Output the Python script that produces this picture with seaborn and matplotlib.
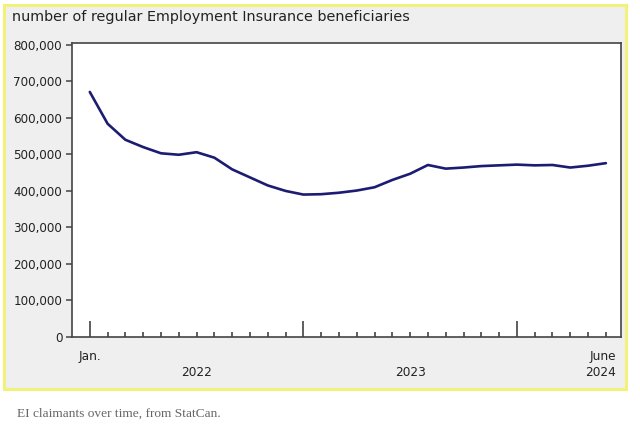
import matplotlib
matplotlib.use("Agg")
import matplotlib.pyplot as plt
import matplotlib.ticker as mticker
from matplotlib.patches import Rectangle
import numpy as np
import pandas as pd
import seaborn as sns

# monthly regular EI beneficiaries, Jan 2022 - June 2024
months = pd.date_range("2022-01-01", "2024-06-01", freq="MS")
beneficiaries = [
    671000, 584000, 540000, 520000, 503000, 499000, 506000, 491000, 459000, 437000, 415000, 400000,
    390000, 391000, 395000, 401000, 410000, 430000, 447000, 471000, 461000, 464000, 468000, 470000,
    472000, 470000, 471000, 464000, 469000, 476000,
]
year_labels = ["2022", "2023", "2024"]
y_ticks = [0, 100000, 200000, 300000, 400000, 500000, 600000, 700000, 800000]

df = pd.DataFrame({"mes": np.arange(len(months)), "valor": beneficiaries})

sns.set_style("ticks")
plt.rcParams["font.family"] = ["DejaVu Sans"]

fig = plt.figure(figsize=(6.4, 4.29), dpi=100)
fig.patch.set_facecolor("white")

# gray panel with yellow border
W, H = 640, 429
fig.patches.append(Rectangle((4 / W, 1 - 389 / H), 622 / W, 384 / H,
                             transform=fig.transFigure, facecolor="#efefef",
                             edgecolor="#f2f27a", linewidth=2.2, zorder=-10))

ax = fig.add_axes([72 / W, 1 - 337 / H, 549 / W, 294 / H])
ax.set_zorder(5)
ax.set_facecolor("white")

sns.lineplot(data=df, x="mes", y="valor", ax=ax, color="#1c1c72", linewidth=1.9)

ax.set_xlim(-1, 29.85)
ax.set_ylim(0, 805000)
ax.set_yticks(y_ticks)
ax.yaxis.set_major_formatter(mticker.FuncFormatter(lambda v, p: f"{int(v):,}"))
ax.tick_params(axis="y", direction="out", length=4, width=1.1, color="#444444",
               labelsize=8.6, labelcolor="#222222", pad=3)

ax.set_xticks([i for i, m in enumerate(months) if m.month == 1])
ax.set_xticks(np.arange(len(months)), minor=True)
ax.set_xticklabels([])
ax.tick_params(axis="x", which="major", direction="in", length=11.5, width=1.1, color="#333333")
ax.tick_params(axis="x", which="minor", direction="in", length=3.5, width=1.1, color="#333333")

for s in ax.spines.values():
    s.set_color("#444444")
    s.set_linewidth(1.2)

ax.set_xlabel("")
ax.set_ylabel("")

trans = ax.get_xaxis_transform()
ax.text(0, -0.065, "Jan.", transform=trans, ha="center", va="center", fontsize=8.7, color="#222222")
ax.text(len(months) - 0.45, -0.065, "June", transform=trans, ha="right", va="center", fontsize=8.7, color="#222222")
for k, yr in enumerate(year_labels[:2]):
    ax.text(6 + 12 * k, -0.12, yr, transform=trans, ha="center", va="center", fontsize=8.7, color="#222222")
ax.text(len(months) - 0.45, -0.12, year_labels[2], transform=trans, ha="right", va="center", fontsize=8.7, color="#222222")

fig.text(12 / W, 1 - 17 / H, "number of regular Employment Insurance beneficiaries",
         ha="left", va="center", fontsize=10.4, color="#222222")

fig.text(17 / W, 1 - 414 / H, "EI claimants over time, from StatCan.",
         ha="left", va="center", fontsize=9.6, color="#666666", family="Liberation Serif")

fig.savefig("out.png", dpi=100)
